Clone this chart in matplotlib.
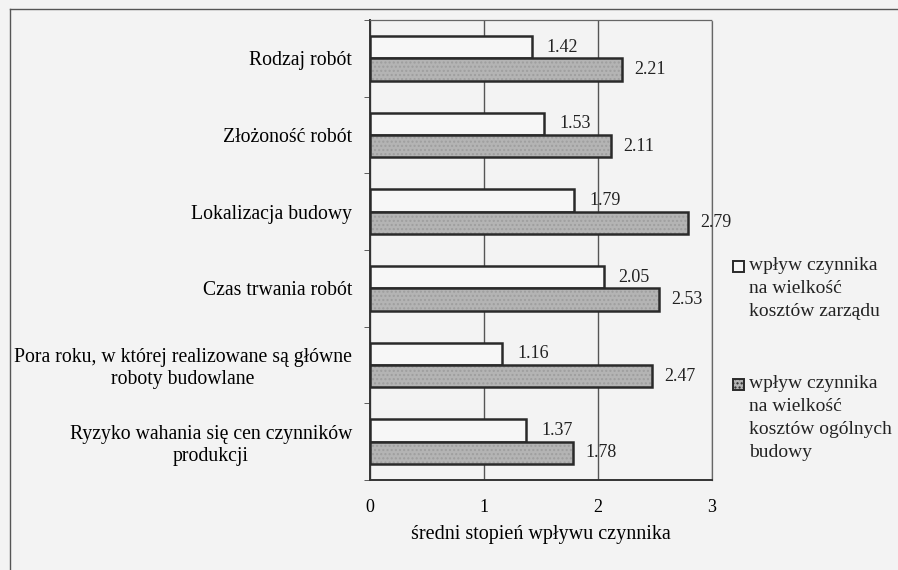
import numpy as np
import matplotlib
matplotlib.use("Agg")
from matplotlib import pyplot as plt
from matplotlib.lines import Line2D
from matplotlib.patches import Rectangle

# data
categories = ["Rodzaj robót",
              "Złożoność robót",
              "Lokalizacja budowy",
              "Czas trwania robót",
              "Pora roku, w której realizowane są główne\nroboty budowlane",
              "Ryzyko wahania się cen czynników\nprodukcji"]
zarzad = [1.42, 1.53, 1.79, 2.05, 1.16, 1.37]
ogolne = [2.21, 2.11, 2.79, 2.53, 2.47, 1.78]
legend_labels = ["wpływ czynnika\nna wielkość\nkosztów zarządu",
                 "wpływ czynnika\nna wielkość\nkosztów ogólnych\nbudowy"]

plt.rcParams['font.family'] = ['Liberation Serif', 'DejaVu Serif']
bg = '#f3f3f3'
white_c = '#f7f7f7'
gray_c = '#b4b4b4'
edge_c = '#2a2a2a'

fig = plt.figure(figsize=(8.98, 5.70), dpi=100, facecolor=bg)
ax = fig.add_axes([0.412, 0.158, 0.381, 0.807], facecolor=bg)

y = np.arange(len(categories))
h = 0.29
bars1 = ax.barh(y - h/2, zarzad, height=h, color=white_c, edgecolor=edge_c,
                linewidth=1.8, zorder=3)
bars2 = ax.barh(y + h/2, ogolne, height=h, color=gray_c, edgecolor=edge_c,
                linewidth=1.8, hatch='....', zorder=3)
for b in bars2:
    b._hatch_color = (0.62, 0.62, 0.62, 1.0)

# value labels
for i in range(len(categories)):
    ax.text(zarzad[i] + 0.13, y[i] - h/2, "%.2f" % zarzad[i], va='center', ha='left',
            fontsize=13, color='#222222', zorder=4)
    ax.text(ogolne[i] + 0.11, y[i] + h/2, "%.2f" % ogolne[i], va='center', ha='left',
            fontsize=13, color='#222222', zorder=4)

ax.set_xlim(0, 3)
ax.set_ylim(len(categories) - 0.5, -0.5)
ax.set_xticks([0, 1, 2, 3])
ax.set_xticklabels(["0", "1", "2", "3"], fontsize=13)
ax.tick_params(axis='x', length=0, pad=14)
ax.set_yticks(y)
ax.set_yticklabels(categories, fontsize=14.2, ha='right', multialignment='center')
ax.tick_params(axis='y', length=0, pad=13)
ax.set_yticks(np.arange(len(categories) + 1) - 0.5, minor=True)
ax.tick_params(axis='y', which='minor', length=4, direction='out', color='#444444')
ax.set_xlabel("średni stopień wpływu czynnika", fontsize=14.5, labelpad=6)

ax.grid(axis='x', color='#555555', linewidth=1.0, zorder=0)
for s in ['top', 'right']:
    ax.spines[s].set_linestyle((0, (1, 1)))
    ax.spines[s].set_color('#666666')
    ax.spines[s].set_linewidth(0.9)
for s in ['left', 'bottom']:
    ax.spines[s].set_color('#333333')
    ax.spines[s].set_linewidth(1.4)

# legend on the right, square next to the first line of each entry
W, H = 898.0, 570.0
leg_items = [(white_c, None, 260, legend_labels[0]),
             (gray_c, '....', 378, legend_labels[1])]
for fc, hatch, top, lab in leg_items:
    fig.add_artist(Rectangle((733 / W, 1 - (top + 12) / H), 11 / W, 11 / H,
                             transform=fig.transFigure, facecolor=fc,
                             edgecolor=edge_c, linewidth=1.4, hatch=hatch))
    fig.text(749 / W, 1 - (top - 3) / H, lab, ha='left', va='top',
             fontsize=14, color='#222222', linespacing=1.45)

# outer frame of the scanned figure
fig.add_artist(Line2D([0.011, 0.011], [0.0, 0.984], color='#555555', linewidth=1.0))
fig.add_artist(Line2D([0.011, 1.0], [0.984, 0.984], color='#555555', linewidth=1.0))

fig.savefig("out.png", dpi=100, facecolor=bg)
